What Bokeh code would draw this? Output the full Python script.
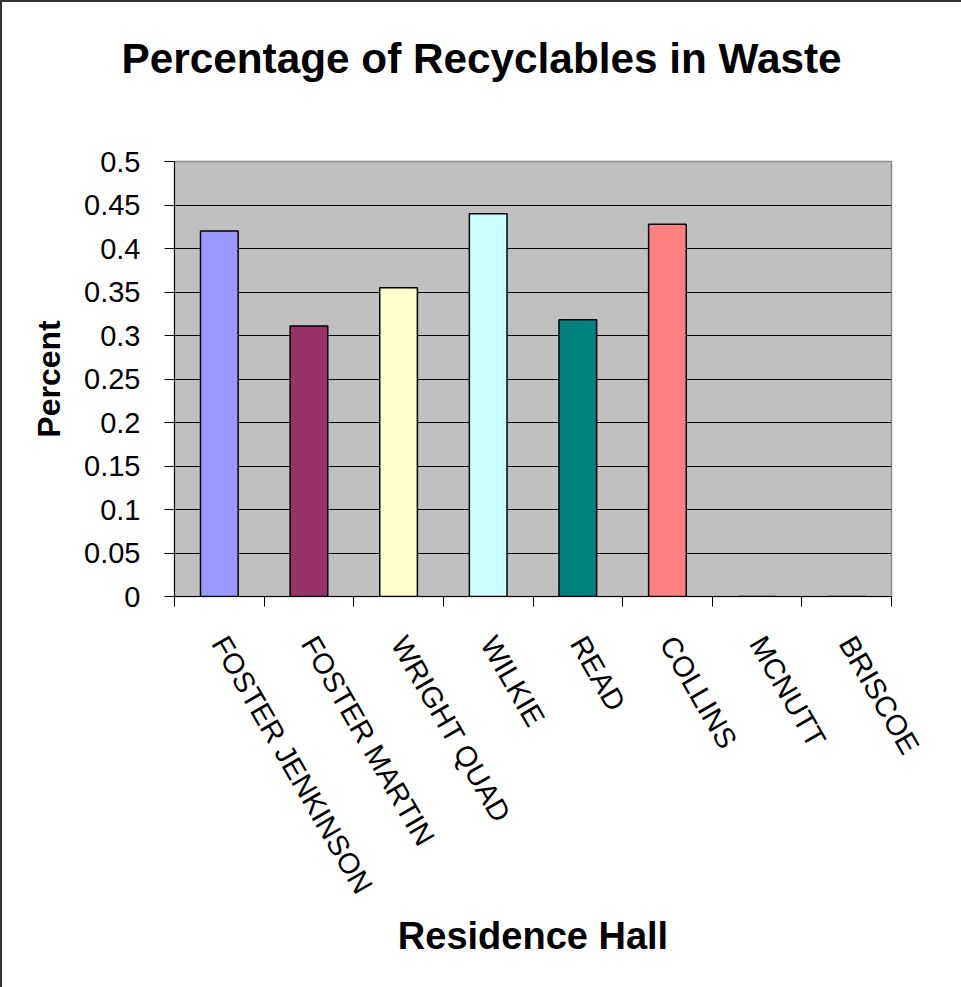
import numpy as np
from bokeh.plotting import figure
from bokeh.models import Range1d, LinearAxis, FixedTicker, Title
from bokeh.embed import file_html
from bokeh.resources import INLINE

# ---- data ----
halls = ["FOSTER JENKINSON", "FOSTER MARTIN", "WRIGHT QUAD", "WILKIE",
         "READ", "COLLINS", "MCNUTT", "BRISCOE"]
percent = [0.42, 0.311, 0.355, 0.44, 0.318, 0.428, 0.0, 0.0]
bar_colors = ["#9999FF", "#993366", "#FFFFCC", "#CCFFFF",
              "#008080", "#FF8080", "#0066CC", "#CCCCFF"]
y_ticks = [0, 0.05, 0.1, 0.15, 0.2, 0.25, 0.3, 0.35, 0.4, 0.45, 0.5]
y_tick_labels = ["0", "0.05", "0.1", "0.15", "0.2", "0.25", "0.3",
                 "0.35", "0.4", "0.45", "0.5"]
title_text = "Percentage of Recyclables in Waste"
x_title = "Residence Hall"
y_title = "Percent"

FONT = "Liberation Sans"

n = len(halls)
centers = [i + 0.5 for i in range(n)]      # category slot centres
edges = list(range(n + 1))                  # category slot boundaries

p = figure(x_range=Range1d(0, n), y_range=Range1d(y_ticks[0], y_ticks[-1]),
           frame_width=717, frame_height=435,
           min_border_left=174, min_border_right=70,
           min_border_top=161, min_border_bottom=391,
           x_axis_location=None,
           output_backend="svg", toolbar_location=None,
           background_fill_color="#C0C0C0", border_fill_color=None,
           title=title_text)

p.styles = {"box-shadow": "inset 2px 2px 0 0 #333333",
            "background-color": "white"}

# title
p.title.text_font = FONT
p.title.text_font_size = "42.3px"
p.title.text_font_style = "bold"
p.title.text_color = "black"
p.title.align = "left"
p.title.offset = -53
p.title.standoff = 10

# empty spacer between title and plot area
p.add_layout(Title(text=" ", text_font_size="1px", standoff=72), "above")

# frame outline
p.outline_line_color = "#8C8C8C"
p.outline_line_width = 1.5

# bars
p.vbar(x=centers, top=percent, width=0.42, fill_color=bar_colors,
       line_color="black", line_width=1.5)

# y axis
yax = p.yaxis[0]
yax.ticker = FixedTicker(ticks=y_ticks)
yax.major_label_overrides = {t: s for t, s in zip(y_ticks, y_tick_labels)}
yax.major_label_text_font = FONT
yax.major_label_text_font_size = "29px"
yax.major_label_text_color = "black"
yax.major_label_standoff = 24
yax.major_tick_out = 10
yax.major_tick_in = 0
yax.major_tick_line_color = "black"
yax.minor_tick_line_color = None
yax.axis_line_color = "black"
yax.axis_label = y_title
yax.axis_label_text_font = FONT
yax.axis_label_text_font_size = "32px"
yax.axis_label_text_font_style = "bold"
yax.axis_label_text_color = "black"
yax.axis_label_standoff = 14

# grid
p.ygrid.ticker = FixedTicker(ticks=y_ticks)
p.ygrid.grid_line_color = "black"
p.ygrid.grid_line_width = 1
p.xgrid.grid_line_color = None

# x axis: tick marks at category boundaries
tick_axis = LinearAxis(ticker=FixedTicker(ticks=edges),
                       major_label_overrides={t: "" for t in edges},
                       major_label_text_font_size="0px", major_label_standoff=0,
                       major_tick_out=10, major_tick_in=0,
                       major_tick_line_color="black",
                       minor_tick_line_color=None, axis_line_color="black")
p.add_layout(tick_axis, "below")

# x axis: category names at slot centres
label_axis = LinearAxis(ticker=FixedTicker(ticks=centers),
                        major_label_overrides={c: h for c, h in zip(centers, halls)},
                        major_tick_line_color=None, minor_tick_line_color=None,
                        axis_line_color=None,
                        major_label_orientation=-np.deg2rad(60),
                        major_label_standoff=26,
                        major_label_text_font=FONT,
                        major_label_text_font_size="29px",
                        major_label_text_color="black",
                        axis_label=x_title,
                        axis_label_text_font=FONT,
                        axis_label_text_font_size="38px",
                        axis_label_text_font_style="bold",
                        axis_label_text_color="black",
                        axis_label_standoff=5)
p.add_layout(label_axis, "below")

open("out.html", "w").write(file_html(p, INLINE))
